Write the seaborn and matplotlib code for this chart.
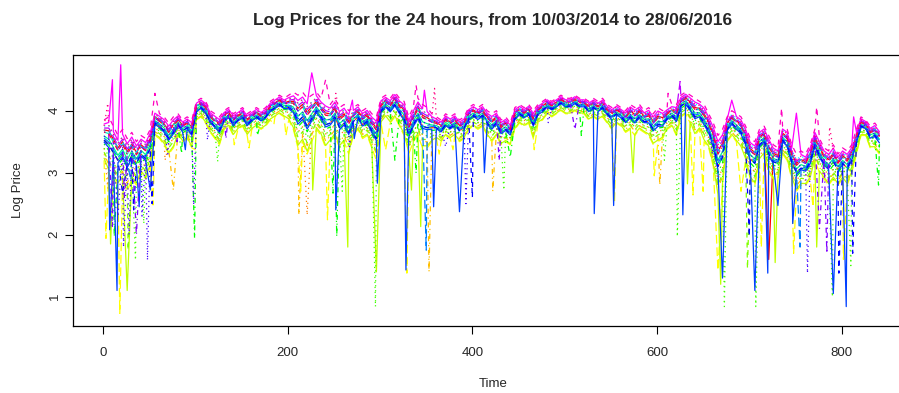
import numpy as np
import pandas as pd
import matplotlib
matplotlib.use("Agg")
import matplotlib.pyplot as plt
import matplotlib.colors as mcolors
import seaborn as sns

# ---------------- data ----------------
# grid of days at which the band envelopes were read
grid_t = [1, 6, 11] + list(range(16, 52, 5)) + list(range(56, 842, 5))

# upper envelope of the band (evening hours, pink/magenta)
top = [3.85, 3.9, 3.75,
       3.6, 3.7, 3.55, 3.65, 3.5, 3.6, 3.55, 3.7,
       4.0, 3.95, 3.9, 3.8, 3.9, 3.95, 3.85, 3.9, 3.85, 4.15,
       4.2, 4.15, 4.0, 3.95, 3.9, 4.0, 4.05, 3.95, 4.0, 4.05,
       3.95, 4.0, 4.05, 4.0, 4.05, 4.15, 4.2, 4.25, 4.2, 4.25,
       4.3, 4.25, 4.3, 4.2, 4.25, 4.3, 4.2, 4.15, 4.1, 4.2,
       4.05, 4.1, 4.0, 4.05, 4.1, 4.0, 4.05, 3.95, 3.9, 4.2,
       4.25, 4.2, 4.3, 4.2, 4.15, 3.9, 4.05, 4.2, 4.1, 4.05,
       3.95, 3.9, 3.85, 3.95, 3.9, 3.95, 3.85, 3.9, 4.05, 4.1,
       4.05, 4.1, 4.0, 3.95, 4.0, 3.85, 3.9, 3.8, 4.05, 4.1,
       4.05, 4.1, 4.0, 4.1, 4.15, 4.2, 4.15, 4.2, 4.25, 4.2,
       4.2, 4.25, 4.2, 4.2, 4.15, 4.2, 4.15, 4.2, 4.1, 4.05,
       4.1, 4.05, 4.0, 4.1, 4.05, 4.1, 4.0, 4.05, 3.95, 4.05,
       4.0, 4.05, 4.1, 4.1, 4.25, 4.3, 4.25, 4.2, 4.15, 4.1,
       3.95, 3.8, 3.6, 3.7, 3.9, 4.0, 3.95, 3.9, 3.75, 3.55,
       3.5, 3.7, 3.75, 3.6, 3.45, 3.4, 3.75, 3.7, 3.45, 3.3,
       3.35, 3.3, 3.45, 3.7, 3.55, 3.4, 3.35, 3.45, 3.3, 3.4,
       3.35, 3.45, 3.7, 3.9, 3.85, 3.75, 3.8, 3.7]

# lower envelope of the band (early-morning hours, yellow)
low = [3.2, 3.0, 2.9,
       2.8, 2.9, 2.7, 2.9, 2.8, 3.0, 2.9, 3.1,
       3.6, 3.55, 3.45, 3.3, 3.4, 3.6, 3.5, 3.55, 3.4, 3.85,
       3.9, 3.8, 3.65, 3.55, 3.45, 3.7, 3.75, 3.6, 3.7, 3.75,
       3.6, 3.7, 3.75, 3.7, 3.75, 3.85, 3.9, 3.95, 3.9, 3.85,
       3.7, 3.4, 3.5, 3.3, 3.5, 3.7, 3.6, 3.4, 3.5, 3.6,
       3.4, 3.5, 3.3, 3.6, 3.7, 3.55, 3.6, 3.4, 3.2, 3.8,
       3.9, 3.8, 3.9, 3.75, 3.6, 3.3, 3.5, 3.6, 3.4, 3.4,
       3.5, 3.55, 3.5, 3.6, 3.55, 3.6, 3.5, 3.55, 3.7, 3.75,
       3.7, 3.75, 3.6, 3.5, 3.6, 3.45, 3.5, 3.45, 3.7, 3.8,
       3.75, 3.8, 3.55, 3.8, 3.85, 3.95, 3.9, 3.95, 4.0, 3.95,
       3.95, 4.0, 3.95, 3.95, 3.85, 3.9, 3.85, 3.9, 3.8, 3.7,
       3.8, 3.75, 3.65, 3.7, 3.6, 3.7, 3.65, 3.6, 3.45, 3.5,
       3.55, 3.7, 3.75, 3.6, 3.9, 3.95, 3.8, 3.6, 3.7, 3.5,
       3.4, 3.1, 2.6, 2.8, 3.5, 3.6, 3.5, 3.4, 3.2, 2.9,
       2.8, 3.2, 3.3, 3.0, 2.9, 2.9, 3.3, 3.2, 2.9, 2.7,
       2.8, 2.8, 2.9, 3.2, 3.0, 2.9, 2.8, 2.9, 2.8, 2.9,
       2.8, 3.0, 3.3, 3.6, 3.6, 3.4, 3.4, 3.3]

# position of each hour inside the band (0 = lower envelope, 1 = upper)
hour_level = [0.75, 0.5, 0.3, 0.15, 0.0, 0.05, 0.2, 0.3, 0.4, 0.5, 0.6, 0.7,
              0.85, 0.75, 0.55, 0.45, 0.5, 0.6, 0.7, 0.8, 0.9, 1.0, 0.85, 0.7]

# isolated spikes: (day, log price, hour)
spikes = [
    # first weeks (very volatile)
    (3, 1.94, 5), (5, 2.75, 3), (5, 4.12, 23), (7, 2.08, 16), (8, 1.85, 6),
    (10, 4.5, 21), (10, 2.1, 19), (12, 1.97, 9), (15, 1.1, 16), (16, 2.3, 18),
    (18, 0.73, 5), (19, 4.74, 21), (21, 2.67, 17), (22, 1.8, 18), (23, 2.6, 19),
    (26, 1.1, 6), (27, 1.75, 7), (28, 2.0, 18), (30, 2.88, 15), (33, 2.4, 17),
    (35, 1.59, 8), (36, 2.0, 19), (39, 2.45, 16), (42, 2.3, 18), (44, 2.18, 8),
    (48, 1.59, 18), (51, 2.72, 16), (53, 2.5, 17), (54, 2.48, 5), (56, 4.28, 22),
    # 2014 rest
    (67, 3.2, 3), (70, 3.3, 18), (76, 2.72, 4), (80, 3.5, 19), (85, 3.31, 9),
    (89, 3.37, 16), (98, 2.48, 18), (99, 1.94, 9), (100, 3.37, 5), (113, 3.53, 18),
    (124, 3.18, 8), (133, 3.55, 19), (142, 3.45, 5), (158, 3.4, 5), (167, 3.6, 9),
    (185, 3.78, 5), (198, 3.6, 5),
    # 2015
    (212, 2.32, 4), (214, 2.7, 5), (221, 2.32, 3), (226, 4.61, 21), (227, 2.72, 6),
    (241, 4.5, 22), (243, 2.24, 5), (249, 2.67, 9), (252, 2.4, 16), (252, 4.28, 23),
    (253, 1.97, 9), (259, 2.7, 8), (265, 1.8, 6), (267, 3.42, 18), (270, 4.17, 21),
    (272, 3.55, 16), (295, 0.84, 8), (296, 1.4, 6), (297, 2.83, 16), (306, 3.37, 5),
    (316, 3.2, 9), (328, 1.43, 16), (329, 1.38, 5), (334, 2.72, 6), (339, 2.99, 9),
    (339, 4.41, 22), (344, 2.13, 6), (348, 4.33, 21), (350, 1.75, 15), (353, 1.4, 4),
    (358, 2.45, 16), (359, 4.36, 23), (364, 3.3, 5), (371, 3.42, 18), (379, 3.37, 5),
    (386, 2.37, 16), (393, 2.5, 18), (400, 2.6, 17), (413, 3.0, 16), (422, 2.7, 4),
    (429, 3.2, 19), (434, 2.72, 8), (441, 3.25, 9), (467, 3.37, 5), (482, 3.8, 18),
    (511, 3.7, 19), (518, 3.6, 9), (532, 2.34, 16), (553, 2.47, 16), (554, 2.55, 5),
    (574, 3.0, 6), (597, 2.95, 5), (603, 2.8, 4), (608, 3.2, 8), (612, 4.28, 22),
    # 2016
    (622, 1.97, 8), (625, 4.47, 20), (628, 2.32, 16), (633, 2.82, 6), (639, 2.64, 5),
    (650, 2.7, 5), (660, 3.3, 18), (666, 1.43, 5), (669, 1.2, 6), (671, 1.3, 16),
    (673, 0.84, 8), (681, 4.17, 21), (691, 2.7, 5), (698, 1.45, 7), (700, 1.97, 17),
    (706, 1.1, 16), (707, 0.84, 8), (713, 1.8, 5), (720, 1.38, 16), (721, 1.6, 1),
    (728, 1.55, 6), (731, 2.47, 16), (735, 4.04, 22), (747, 2.18, 16), (748, 1.7, 5),
    (751, 3.96, 21), (755, 1.8, 15), (763, 1.38, 18), (769, 2.45, 5), (773, 1.8, 6),
    (773, 4.06, 22), (776, 2.1, 19), (784, 1.7, 19), (787, 3.74, 23), (790, 1.0, 8),
    (791, 1.05, 16), (797, 1.38, 17), (802, 1.6, 5), (805, 0.84, 16), (810, 1.5, 8),
    (812, 1.7, 17), (813, 3.9, 21), (840, 2.8, 9),
]

assert len(grid_t) == len(top) == len(low)

# ---------------- build long table ----------------
rows = []
for h in range(1, 25):
    w = hour_level[h - 1]
    pts = {t: lo + (hi - lo) * w for t, hi, lo in zip(grid_t, top, low)}
    for (t, v, hh) in spikes:
        if hh == h:
            pts[t] = v
    for t in sorted(pts):
        rows.append((h, t, pts[t]))
df = pd.DataFrame(rows, columns=["hour", "time", "logprice"])

# R rainbow(24) colours
colors = [mcolors.hsv_to_rgb((i / 24.0, 1.0, 1.0)) for i in range(24)]
# R lty 1:5 cycling (solid, dashed, dotted, dotdash, longdash)
ltys = ["-", (0, (4, 4)), (0, (1, 3)), (0, (1, 3, 4, 3)), (0, (7, 3))]

# ---------------- plot ----------------
sns.set_style("white")
plt.rcParams["font.family"] = ["Liberation Sans", "DejaVu Sans"]

W, H = 899, 393
fig = plt.figure(figsize=(W / 100, H / 100), dpi=100)
x_per = 0.922
left_px, top_px, bottom_px = 73, 55, 325.7
xmin, xmax = -32.7, 876.7
right_px = 104.1 + xmax * x_per
ax = fig.add_axes([left_px / W, 1 - bottom_px / H,
                   (right_px - left_px) / W, (bottom_px - top_px) / H])

for h in range(1, 25):
    sub = df[df["hour"] == h]
    sns.lineplot(data=sub, x="time", y="logprice", ax=ax, color=colors[h - 1],
                 linestyle=ltys[(h - 1) % 5], linewidth=0.9, estimator=None,
                 legend=False)

ax.set_xlim(xmin, xmax)
ax.set_ylim(0.532, 4.898)
ax.set_xticks([0, 200, 400, 600, 800])
ax.set_yticks([1, 2, 3, 4])
ax.set_xticklabels(["0", "200", "400", "600", "800"])
ax.set_yticklabels(["1", "2", "3", "4"], rotation=90, va="center")
ax.tick_params(axis="both", direction="out", length=6, width=0.8,
               color="black", labelsize=9.5, bottom=True, left=True)
ax.tick_params(axis="x", pad=9)
ax.tick_params(axis="y", pad=3)
for s in ax.spines.values():
    s.set_color("black")
    s.set_linewidth(0.9)
ax.set_xlabel("Time", fontsize=9.5, labelpad=14)
ax.set_ylabel("Log Price", fontsize=9.5, labelpad=18)
fig.text(493 / W, 1 - 20 / H,
         "Log Prices for the 24 hours, from 10/03/2014 to 28/06/2016",
         ha="center", va="center", fontsize=12.5, fontweight="bold")

fig.savefig("out.png", dpi=100)
